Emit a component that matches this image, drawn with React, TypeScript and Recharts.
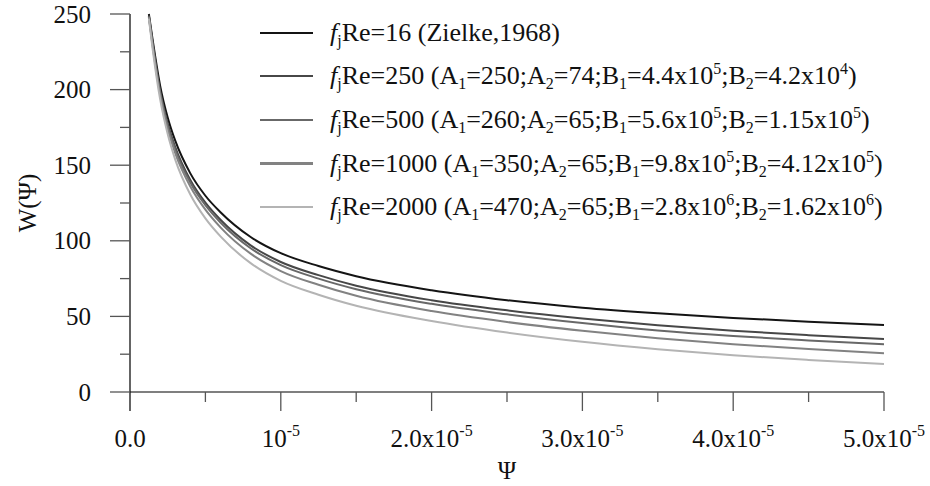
import React from "react";
import { LineChart, Line, XAxis, YAxis, Legend } from "recharts";

// Psi in units of 1e-5
const psi = [0.125, 0.15, 0.2, 0.25, 0.3, 0.4, 0.5, 0.6, 0.8, 1.0, 1.25, 1.5, 2.0, 2.5, 3.0, 3.5, 4.0, 4.5, 5.0];

const w16 = [250, 233, 202.5, 181.6, 166.2, 144.6, 129.8, 118.9, 102.5, 91.8, 83.3, 76.6, 67.3, 60.7, 55.8, 52.1, 49.0, 46.5, 44.3];
const w250 = [249, 231, 199, 177.6, 162, 140.2, 125.2, 113.9, 97, 86, 77.3, 70.3, 60.7, 54, 48.6, 44.1, 40.5, 37.6, 35.0];
const w500 = [248.5, 230, 198, 176.1, 160.4, 138.5, 123.5, 112.1, 95.1, 83.9, 75, 68, 58.3, 51.4, 45.6, 40.7, 37, 34.1, 31.5];
const w1000 = [248, 229, 196.5, 174.1, 158, 135.9, 120.6, 108.9, 91.5, 80, 70.9, 63.6, 53.5, 46.3, 40.5, 35.6, 31.6, 28.4, 25.6];
const w2000 = [247, 227, 193.5, 170.6, 153.7, 130.6, 114.8, 102.9, 85.2, 73.5, 64.3, 57, 46.9, 39.3, 33.2, 28.3, 24.3, 21.2, 18.5];

const xTicks = [0, 0.5, 1, 1.5, 2, 2.5, 3, 3.5, 4, 4.5, 5];
const xMajor = [0, 1, 2, 3, 4, 5];
const xLabels = ["0.0", "10", "2.0x10", "3.0x10", "4.0x10", "5.0x10"];
const yTicks = [0, 25, 50, 75, 100, 125, 150, 175, 200, 225, 250];

const reValues = ["16", "250", "500", "1000", "2000"];
const a1 = ["", "250", "260", "350", "470"];
const a2 = ["", "74", "65", "65", "65"];
const b1 = [["", ""], ["4.4", "5"], ["5.6", "5"], ["9.8", "5"], ["2.8", "6"]];
const b2 = [["", ""], ["4.2", "4"], ["1.15", "5"], ["4.12", "5"], ["1.62", "6"]];

const keys = ["w16", "w250", "w500", "w1000", "w2000"];
const colors = ["#141414", "#474747", "#686868", "#828282", "#b4b4b4"];

const data = psi.map((p, i) => ({
  psi: p,
  w16: w16[i],
  w250: w250[i],
  w500: w500[i],
  w1000: w1000[i],
  w2000: w2000[i],
}));

const FONT = "Liberation Serif, DejaVu Serif, serif";

function XTick({ x, y, payload }: any) {
  const v = payload.value;
  const idx = xMajor.indexOf(v);
  const major = idx >= 0;
  return (
    <g>
      <line
        x1={x}
        x2={x}
        y1={y}
        y2={y + (major ? 19 : 10)}
        stroke={v === 0 ? "#111" : "#555"}
        strokeWidth={1.3}
      />
      {major && (
        <text x={x} y={y + 55} textAnchor="middle" style={{ fontFamily: FONT, fontSize: 25 }} fill="#111">
          {xLabels[idx]}
          {idx > 0 && (
            <tspan dy={-11} style={{ fontSize: 16 }}>
              -5
            </tspan>
          )}
        </text>
      )}
    </g>
  );
}

function YTick({ x, y, payload }: any) {
  const v = payload.value;
  const major = v % 50 === 0;
  return (
    <g>
      <line
        x1={x}
        x2={x - (major ? 20 : 10)}
        y1={y}
        y2={y}
        stroke="#555"
        strokeWidth={1.3}
      />
      {major && (
        <text x={x - 39} y={y + 8.5} textAnchor="end" style={{ fontFamily: FONT, fontSize: 25 }} fill="#111">
          {v}
        </text>
      )}
    </g>
  );
}

const subStyle: React.CSSProperties = { fontSize: 16, verticalAlign: "-5px", lineHeight: 0 };
const supStyle: React.CSSProperties = { fontSize: 16, verticalAlign: "10px", lineHeight: 0 };

function LegendRows() {
  return (
    <div style={{ fontFamily: FONT, fontSize: 26, color: "#111", whiteSpace: "nowrap" }}>
      {keys.map((k, i) => (
        <div key={k} style={{ display: "flex", alignItems: "center", height: 43.6 }}>
          <span
            style={{
              display: "inline-block",
              width: 53,
              height: 2.2,
              background: colors[i],
              marginRight: 17,
            }}
          />
          <span>
            <i>f</i>
            <span style={subStyle}>j</span>Re={reValues[i]}{" "}
            {i === 0 ? (
              "(Zielke,1968)"
            ) : (
              <>
                (A<span style={subStyle}>1</span>={a1[i]};A<span style={subStyle}>2</span>={a2[i]};B
                <span style={subStyle}>1</span>={b1[i][0]}x10<span style={supStyle}>{b1[i][1]}</span>;B
                <span style={subStyle}>2</span>={b2[i][0]}x10<span style={supStyle}>{b2[i][1]}</span>)
              </>
            )}
          </span>
        </div>
      ))}
    </div>
  );
}

export default function App() {
  return (
    <div style={{ position: "absolute", left: 0, top: 0, background: "#fff" }}>
      <LineChart width={930} height={486} data={data} margin={{ top: 14, right: 46, left: 50, bottom: 34 }}>
        <XAxis
          dataKey="psi"
          type="number"
          domain={[0, 5]}
          ticks={xTicks}
          interval={0}
          tick={<XTick />}
          tickLine={false}
          tickSize={0}
          tickMargin={0}
          height={60}
          axisLine={{ stroke: "#555", strokeWidth: 1.3 }}
          label={(props: any) => {
            const vb = props.viewBox;
            return (
              <text x={vb.x + vb.width / 2} y={vb.y + 87} textAnchor="middle" style={{ fontFamily: FONT, fontSize: 25 }} fill="#111">
                Ψ
              </text>
            );
          }}
        />
        <YAxis
          type="number"
          domain={[0, 250]}
          ticks={yTicks}
          interval={0}
          width={80}
          tick={<YTick />}
          tickLine={false}
          tickSize={0}
          tickMargin={0}
          axisLine={{ stroke: "#111", strokeWidth: 1.3 }}
          label={() => (
            <text
              x={36}
              y={203}
              transform="rotate(-90, 36, 203)"
              textAnchor="middle"
              style={{ fontFamily: FONT, fontSize: 25 }}
              fill="#111"
            >
              W(Ψ)
            </text>
          )}
        />
        <Legend
          layout="vertical"
          align="center"
          verticalAlign="middle"
          content={<LegendRows />}
          wrapperStyle={{ position: "absolute", left: 260, top: 11, width: "auto" }}
        />
        {keys.map((k, i) => (
          <Line
            key={k}
            type="monotone"
            dataKey={k}
            stroke={colors[i]}
            strokeWidth={2}
            dot={false}
            isAnimationActive={false}
          />
        ))}
      </LineChart>
    </div>
  );
}
